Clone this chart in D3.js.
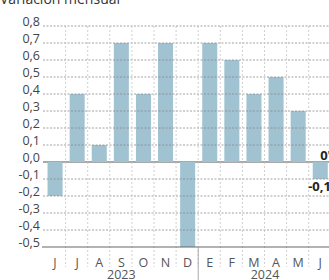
<!DOCTYPE html>
<html>
<head>
<meta charset="utf-8">
<script src="https://cdn.jsdelivr.net/npm/d3@7"></script>
<style>
  html, body { margin: 0; padding: 0; background: #fff; }
  svg { display: block; font-family: "Open Sans", sans-serif; }
</style>
</head>
<body>
<div id="chart"></div>
<script>
// monthly change, Jun 2023 - Jun 2024
var months = ['J', 'J', 'A', 'S', 'O', 'N', 'D', 'E', 'F', 'M', 'A', 'M', 'J'];
var values = [-0.2, 0.4, 0.1, 0.7, 0.4, 0.7, -0.5, 0.7, 0.6, 0.4, 0.5, 0.3, -0.1];
var yTicks = [0.8, 0.7, 0.6, 0.5, 0.4, 0.3, 0.2, 0.1, 0, -0.1, -0.2, -0.3, -0.4, -0.5];
var years = [{label: '2023', from: 0, to: 6}, {label: '2024', from: 7, to: 12}];

var width = 329, height = 280;
var svg = d3.select('#chart').append('svg')
    .attr('width', width)
    .attr('height', height);

var idx = d3.range(months.length);

// cells (for grid lines / labels) and bars
var cell = d3.scaleBand().domain(idx).range([44, 44 + 13 * 22.1]).padding(0);
var bar = d3.scaleBand().domain(idx).range([44, 44 + 13 * 22.1])
    .paddingInner(0.32).paddingOuter(0.16);
var y = d3.scaleLinear().domain([-0.5, 0.8]).range([247, 26]);

var fmt = function(v) { return d3.format('.1f')(v).replace('.', ',').replace('\u2212', '-'); };

// title (cut at top)
svg.append('text')
    .attr('x', 0).attr('y', 4)
    .style('font-size', '14px')
    .attr('fill', '#333')
    .text('Variación mensual');

// baseline at zero
svg.append('line')
    .attr('x1', 43).attr('x2', width)
    .attr('y1', y(0)).attr('y2', y(0))
    .attr('stroke', '#555').attr('stroke-width', 1.2);

// bars
svg.selectAll('rect.bar')
    .data(values)
    .enter()
    .append('rect')
    .attr('class', 'bar')
    .attr('x', function(d, i) { return bar(i); })
    .attr('width', bar.bandwidth())
    .attr('y', function(d) { return y(Math.max(0, d)); })
    .attr('height', function(d) { return Math.abs(y(d) - y(0)); })
    .attr('fill', '#a0c2d1');

// horizontal grid lines (over the bars)
svg.selectAll('line.hgrid')
    .data(yTicks.filter(function(t) { return t !== 0 && t !== -0.5; }))
    .enter()
    .append('line')
    .attr('class', 'hgrid')
    .attr('x1', 43).attr('x2', width)
    .attr('y1', function(d) { return y(d); })
    .attr('y2', function(d) { return y(d); })
    .attr('stroke', '#8a8a8a')
    .attr('stroke-width', 0.8)
    .attr('stroke-dasharray', '2,1.5');

// vertical grid lines between months
svg.selectAll('line.vgrid')
    .data(idx.slice(1))
    .enter()
    .append('line')
    .attr('class', 'vgrid')
    .attr('x1', function(i) { return cell(i) - 0.5; })
    .attr('x2', function(i) { return cell(i) - 0.5; })
    .attr('y1', y(0.8))
    .attr('y2', 267)
    .attr('stroke', '#c4c4c4')
    .attr('stroke-width', 0.8)
    .attr('stroke-dasharray', '2,2');

// bottom axis line
svg.append('line')
    .attr('x1', 42).attr('x2', width)
    .attr('y1', y(-0.5)).attr('y2', y(-0.5))
    .attr('stroke', '#666').attr('stroke-width', 1);

// year separator
svg.append('line')
    .attr('x1', cell(7) - 0.5).attr('x2', cell(7) - 0.5)
    .attr('y1', y(-0.5)).attr('y2', height)
    .attr('stroke', '#aaa').attr('stroke-width', 1);

// y tick labels
svg.selectAll('text.ytick')
    .data(yTicks)
    .enter()
    .append('text')
    .attr('class', 'ytick')
    .attr('x', 40)
    .attr('y', function(d) { return y(d); })
    .attr('text-anchor', 'end')
    .style('font-size', '12.5px')
    .attr('fill', '#444')
    .text(fmt);

// month labels
svg.selectAll('text.month')
    .data(months)
    .enter()
    .append('text')
    .attr('class', 'month')
    .attr('x', function(d, i) { return cell(i) + cell.bandwidth() / 2; })
    .attr('y', 266.5)
    .attr('text-anchor', 'middle')
    .style('font-size', '12.5px')
    .attr('fill', '#555')
    .text(function(d) { return d; });

// year labels
svg.selectAll('text.year')
    .data(years)
    .enter()
    .append('text')
    .attr('class', 'year')
    .attr('x', function(d) { return (cell(d.from) + cell(d.to) + cell.bandwidth()) / 2; })
    .attr('y', 278.5)
    .attr('text-anchor', 'middle')
    .style('font-size', '12.5px')
    .attr('fill', '#555')
    .text(function(d) { return d.label; });

// last value annotations (cut at right edge)
var last = months.length - 1;
svg.append('text')
    .attr('x', cell(last) + 11)
    .attr('y', y(0) - 2)
    .style('font-size', '13px')
    .style('font-weight', 'bold')
    .attr('fill', '#222')
    .text("0'");
svg.append('text')
    .attr('x', cell(last) - 1)
    .attr('y', y(values[last]) + 12)
    .style('font-size', '13px')
    .style('font-weight', 'bold')
    .attr('fill', '#222')
    .text(fmt(values[last]));
</script>
</body>
</html>
